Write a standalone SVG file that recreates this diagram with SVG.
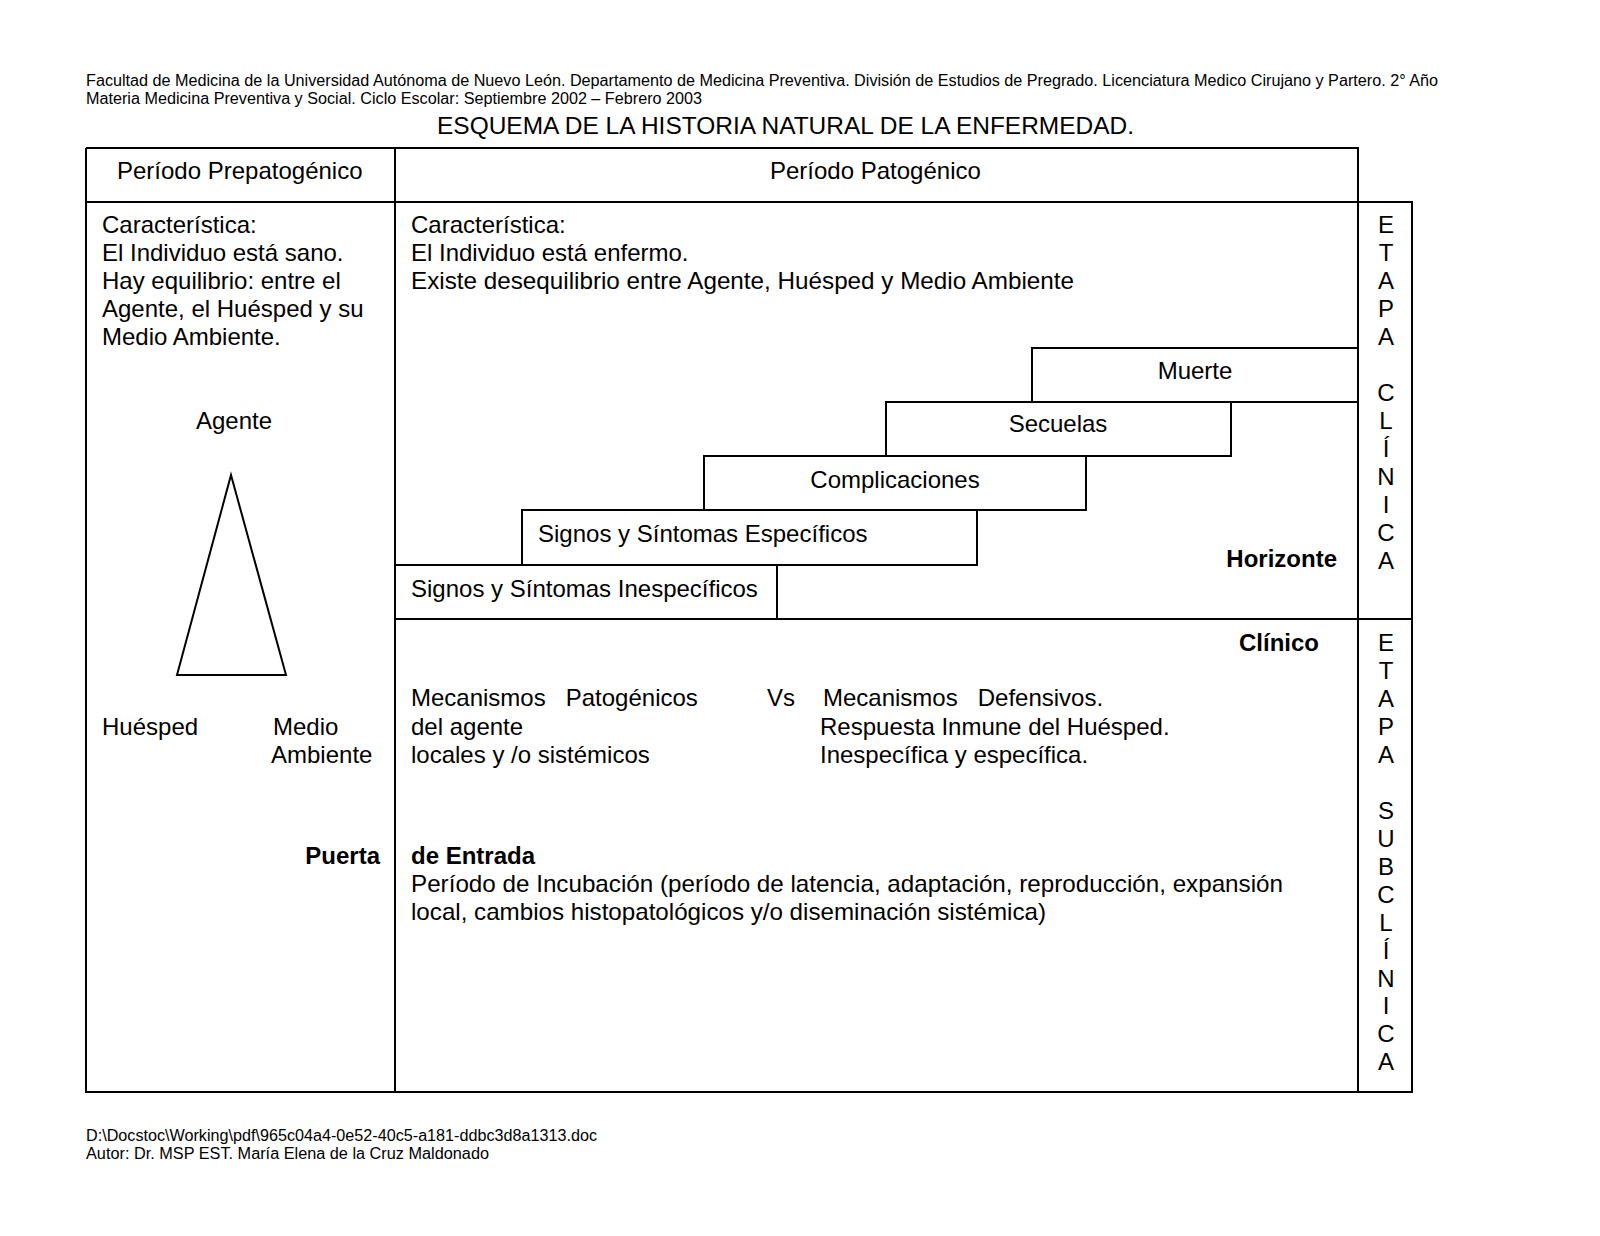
<svg xmlns="http://www.w3.org/2000/svg" width="1600" height="1236" viewBox="0 0 1600 1236">
<style>
text{font-family:"Liberation Sans",Arial,sans-serif;fill:#000}
.s{font-size:16px}
.m{font-size:24px}
.b{font-size:24px;font-weight:bold}
.c{text-anchor:middle}
.r{text-anchor:end}
.ln{stroke:#000;stroke-width:2;fill:none}
.box{stroke:#000;stroke-width:2;fill:#fff}
</style>
<rect width="1600" height="1236" fill="#fff"/>
<g id="header">
<text class="s" x="86" y="86" textLength="1352" lengthAdjust="spacingAndGlyphs">Facultad de Medicina de la Universidad Autónoma de Nuevo León. Departamento de Medicina Preventiva. División de Estudios de Pregrado. Licenciatura Medico Cirujano y Partero. 2° Año</text>
<text class="s" x="86" y="104" textLength="616" lengthAdjust="spacingAndGlyphs">Materia Medicina Preventiva y Social. Ciclo Escolar: Septiembre 2002 – Febrero 2003</text>
<text class="m" x="437" y="134" textLength="697" lengthAdjust="spacingAndGlyphs">ESQUEMA DE LA HISTORIA NATURAL DE LA ENFERMEDAD.</text>
</g>
<g id="table">
<path class="ln" d="M86 148H1358V1092M86 148V1092H1412V202H86M395 148V1092M395 619H1412"/>
</g>
<g id="col-prepatogenico">
<text class="m" x="117" y="179">Período Prepatogénico</text>
<text class="m" x="102" y="233">Característica:</text>
<text class="m" x="102" y="261">El Individuo está sano.</text>
<text class="m" x="102" y="289">Hay equilibrio: entre el</text>
<text class="m" x="102" y="317">Agente, el Huésped y su</text>
<text class="m" x="102" y="345">Medio Ambiente.</text>
</g>
<g id="triada">
<text class="m c" x="234" y="429">Agente</text>
<polygon class="ln" points="231,475 177,675 286,675"/>
<text class="m" x="102" y="735">Huésped</text>
<text class="m" x="273" y="735">Medio</text>
<text class="m" x="271" y="763">Ambiente</text>
</g>
<g id="col-patogenico">
<text class="m" x="770" y="179">Período Patogénico</text>
<text class="m" x="411" y="233">Característica:</text>
<text class="m" x="411" y="261">El Individuo está enfermo.</text>
<text class="m" x="411" y="289" textLength="663" lengthAdjust="spacingAndGlyphs">Existe desequilibrio entre Agente, Huésped y Medio Ambiente</text>
</g>
<g id="muerte">
<rect class="box" x="1032" y="348" width="326" height="54"/>
<text class="m c" x="1195" y="379">Muerte</text>
</g>
<g id="secuelas">
<rect class="box" x="886" y="402" width="345" height="54"/>
<text class="m c" x="1058" y="432">Secuelas</text>
</g>
<g id="complicaciones">
<rect class="box" x="704" y="456" width="382" height="54"/>
<text class="m c" x="895" y="488">Complicaciones</text>
</g>
<g id="especificos">
<rect class="box" x="522" y="510" width="455" height="55"/>
<text class="m" x="538" y="542">Signos y Síntomas Específicos</text>
</g>
<g id="inespecificos">
<rect class="box" x="395" y="565" width="382" height="54"/>
<text class="m" x="411" y="597">Signos y Síntomas Inespecíficos</text>
</g>
<g id="horizonte">
<text class="b r" x="1337" y="567">Horizonte</text>
<text class="b r" x="1319" y="651">Clínico</text>
</g>
<g id="mecanismos">
<text class="m" x="411" y="706" xml:space="preserve">Mecanismos   Patogénicos</text>
<text class="m" x="411" y="735">del agente</text>
<text class="m" x="411" y="763">locales y /o sistémicos</text>
<text class="m" x="767" y="706">Vs</text>
<text class="m" x="823" y="706" xml:space="preserve">Mecanismos   Defensivos.</text>
<text class="m" x="820" y="735">Respuesta Inmune del Huésped.</text>
<text class="m" x="820" y="763">Inespecífica y específica.</text>
</g>
<g id="puerta-entrada">
<text class="b r" x="380" y="864">Puerta</text>
<text class="b" x="411" y="864">de Entrada</text>
<text class="m" x="411" y="892" textLength="872" lengthAdjust="spacingAndGlyphs">Período de Incubación (período de latencia, adaptación, reproducción, expansión</text>
<text class="m" x="411" y="920" textLength="635" lengthAdjust="spacingAndGlyphs">local, cambios histopatológicos y/o diseminación sistémica)</text>
</g>
<g id="etapa-clinica">
<text class="m c" x="1386" y="233">E</text>
<text class="m c" x="1386" y="261">T</text>
<text class="m c" x="1386" y="289">A</text>
<text class="m c" x="1386" y="317">P</text>
<text class="m c" x="1386" y="345">A</text>
<text class="m c" x="1386" y="401">C</text>
<text class="m c" x="1386" y="429">L</text>
<text class="m c" x="1386" y="457">Í</text>
<text class="m c" x="1386" y="485">N</text>
<text class="m c" x="1386" y="513">I</text>
<text class="m c" x="1386" y="541">C</text>
<text class="m c" x="1386" y="569">A</text>
</g>
<g id="etapa-subclinica">
<text class="m c" x="1386" y="651">E</text>
<text class="m c" x="1386" y="679">T</text>
<text class="m c" x="1386" y="707">A</text>
<text class="m c" x="1386" y="735">P</text>
<text class="m c" x="1386" y="763">A</text>
<text class="m c" x="1386" y="819">S</text>
<text class="m c" x="1386" y="847">U</text>
<text class="m c" x="1386" y="875">B</text>
<text class="m c" x="1386" y="903">C</text>
<text class="m c" x="1386" y="931">L</text>
<text class="m c" x="1386" y="959">Í</text>
<text class="m c" x="1386" y="987">N</text>
<text class="m c" x="1386" y="1014">I</text>
<text class="m c" x="1386" y="1042">C</text>
<text class="m c" x="1386" y="1070">A</text>
</g>
<g id="footer">
<text class="s" x="86" y="1141" textLength="511" lengthAdjust="spacingAndGlyphs">D:\Docstoc\Working\pdf\965c04a4-0e52-40c5-a181-ddbc3d8a1313.doc</text>
<text class="s" x="86" y="1159" textLength="403" lengthAdjust="spacingAndGlyphs">Autor: Dr. MSP EST. María Elena de la Cruz Maldonado</text>
</g>
</svg>
